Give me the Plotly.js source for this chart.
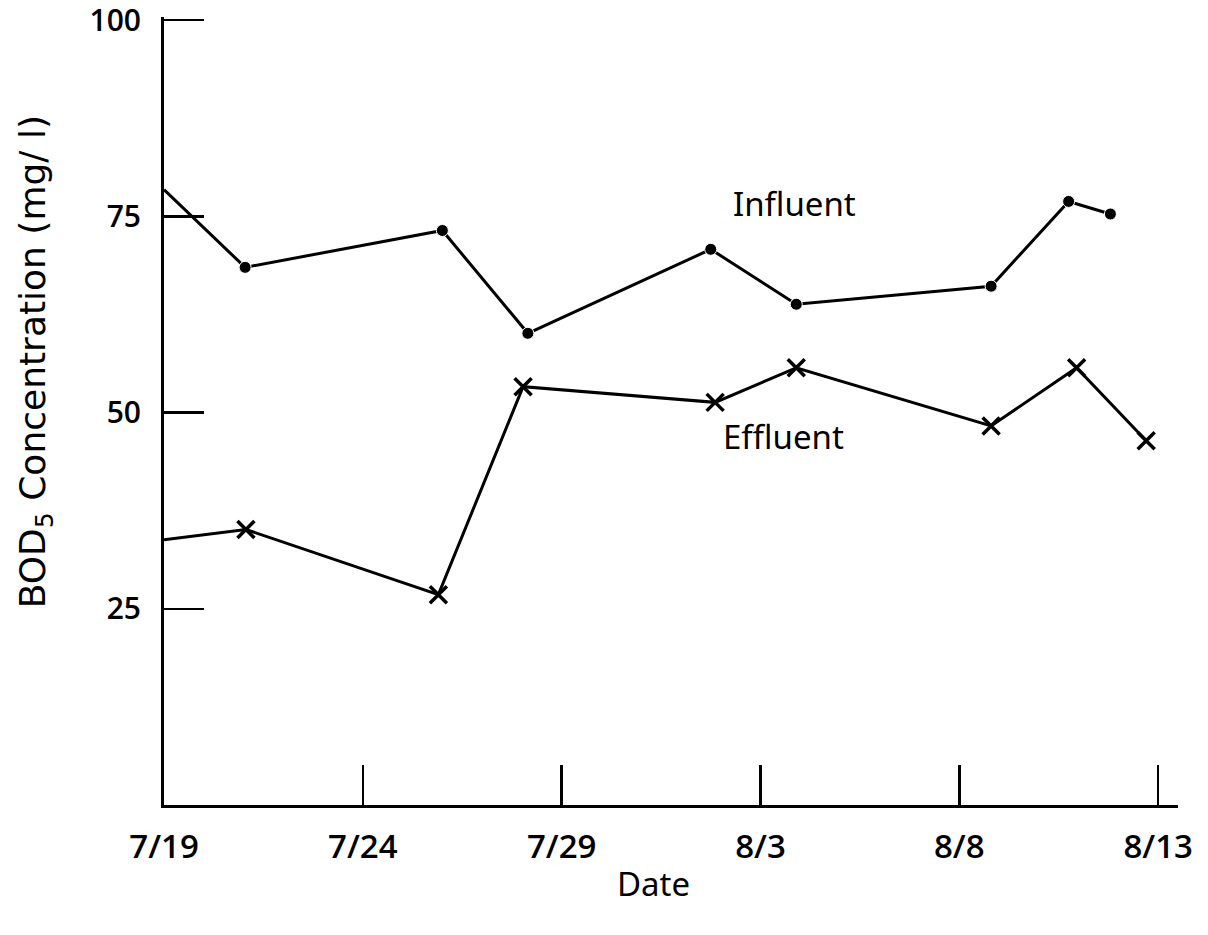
<!DOCTYPE html>
<html>
<head>
<meta charset="utf-8">
<script src="https://cdn.plot.ly/plotly-3.0.1.min.js"></script>
<style>
  html, body { margin: 0; padding: 0; background: #fff; }
  #chart { width: 1208px; height: 935px; }
</style>
</head>
<body>
<div id="chart"></div>
<script>
// Days counted from 7/19 (day 0)
const influentDays = [0, 2.04, 7.0, 9.15, 13.75, 15.9, 20.8, 22.75, 23.8];
const influentBOD  = [78.4, 68.5, 73.2, 60.1, 70.8, 63.8, 66.1, 76.9, 75.3];

const effluentDays = [0, 2.06, 6.9, 9.03, 13.86, 15.9, 20.8, 22.95, 24.7];
const effluentBOD  = [33.8, 35.1, 26.8, 53.3, 51.3, 55.7, 48.3, 55.7, 46.4];

const dateTickDays = [0, 5, 10, 15, 20, 25];
const dateTickText = ['7/19', '7/24', '7/29', '8/3', '8/8', '8/13'];
const bodTicks = [25, 50, 75, 100];

// the first reading sits on the axis and carries no marker
const hideFirst = n => Array.from({length: n}, (_, i) => i === 0 ? 0 : 1);

const influent = {
  x: influentDays, y: influentBOD,
  type: 'scatter', mode: 'lines+markers', name: 'Influent',
  line: {color: '#000', width: 3},
  marker: {symbol: 'circle', color: '#000', opacity: 1,
           size: hideFirst(influentDays.length).map(v => v * 12)},
  cliponaxis: false
};

const effluent = {
  x: effluentDays, y: effluentBOD,
  type: 'scatter', mode: 'lines+markers', name: 'Effluent',
  line: {color: '#000', width: 3},
  marker: {symbol: 'x-thin-open', color: '#000', opacity: 1,
           size: hideFirst(effluentDays.length).map(v => v * 17),
           line: {color: '#000', width: 3.5}},
  cliponaxis: false
};

const xTickFont = {family: 'Open Sans, sans-serif', size: 33, color: '#000', weight: 600};
const yTickFont = {family: 'Open Sans, sans-serif', size: 30, color: '#000', weight: 600};
const labelFont = {family: 'Noto Sans, sans-serif', size: 33, color: '#000'};
const yTitleFont = {family: 'DejaVu Sans, sans-serif', size: 36, color: '#000'};

const layout = {
  width: 1208, height: 935,
  margin: {l: 164, r: 30, t: 17, b: 130},
  paper_bgcolor: '#fff', plot_bgcolor: '#fff',
  showlegend: false,
  xaxis: {
    range: [0, 25.5],
    tickvals: dateTickDays, ticktext: dateTickText,
    ticks: 'inside', ticklen: 40, tickwidth: 2.5, tickcolor: '#000',
    showline: true, linecolor: '#000', linewidth: 3,
    showgrid: false, zeroline: false,
    tickfont: xTickFont, ticklabelstandoff: 10,
    ticklabeloverflow: 'allow'
  },
  yaxis: {
    range: [0, 100.4],
    tickvals: bodTicks,
    ticks: 'inside', ticklen: 40, tickwidth: 2.5, tickcolor: '#000',
    showline: true, linecolor: '#000', linewidth: 3,
    showgrid: false, zeroline: false,
    tickfont: yTickFont, ticklabelstandoff: 14,
    ticklabeloverflow: 'allow'
  },
  annotations: [
    {text: 'BOD<sub>5</sub> Concentration (mg/ l)', textangle: -90,
     xref: 'paper', yref: 'paper', x: -0.127, y: 0.562,
     xanchor: 'center', yanchor: 'middle',
     showarrow: false, font: yTitleFont},
    {text: 'Date', xref: 'paper', yref: 'paper', x: 0.483, y: -0.0994,
     xanchor: 'center', yanchor: 'middle',
     showarrow: false, font: labelFont},
    {text: 'Influent', xref: 'x', yref: 'y', x: 15.85, y: 76.7,
     xanchor: 'center', yanchor: 'middle',
     showarrow: false, font: labelFont},
    {text: 'Effluent', xref: 'x', yref: 'y', x: 15.57, y: 46.9,
     xanchor: 'center', yanchor: 'middle',
     showarrow: false, font: labelFont}
  ]
};

Plotly.newPlot('chart', [influent, effluent], layout, {displayModeBar: false, staticPlot: true});
</script>
</body>
</html>
